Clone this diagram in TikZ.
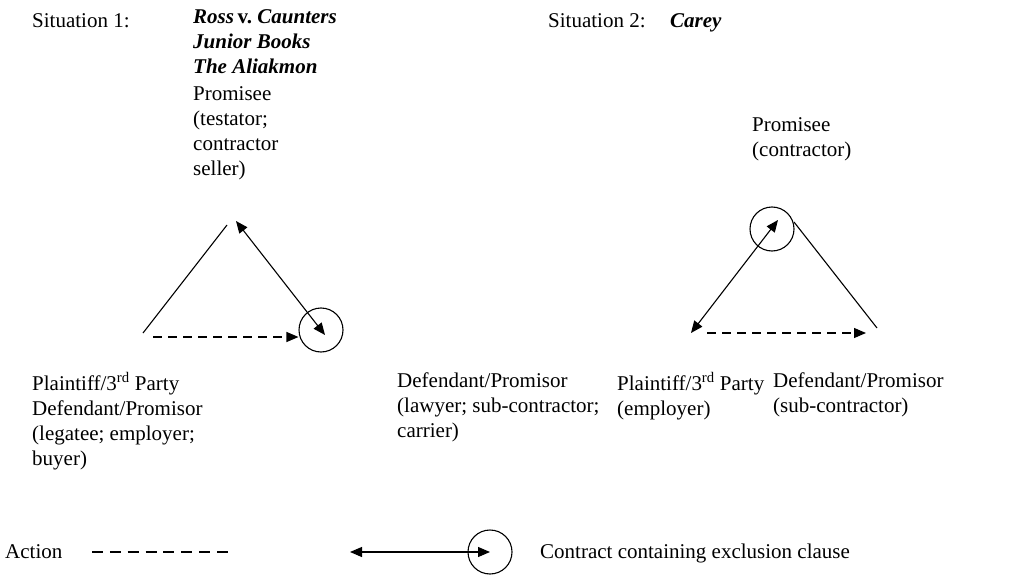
\documentclass[tikz,border=0pt]{standalone}
\usepackage{fontspec}
\setmainfont{Liberation Serif}
\usetikzlibrary{arrows.meta}
\begin{document}
\begin{tikzpicture}[x=1pt,y=-1pt,
  txt/.style={font=\fontsize{21}{25}\selectfont, inner sep=0pt, anchor=north west, yshift=17.5pt, align=left,
    execute at begin node=\strut},
  ln/.style={line width=1.1pt},
  dbl/.style={ln, {Triangle[length=12pt,width=10pt]}-{Triangle[length=12pt,width=10pt]}},
  act/.style={ln, dash pattern=on 9pt off 6pt, -{Triangle[length=12pt,width=10pt]}},
  ring/.style={circle, draw, line width=1.1pt, minimum size=44pt, inner sep=0pt}]
\useasboundingbox (0,0) rectangle (1012,575);
% Situation 1 texts
\node[txt] (s1) at (32,27) {Situation 1:};
\node[txt] (cases) at (193,27) {\textbf{\textit{Ross}\,v.\ \textit{Caunters}}\\\textbf{\textit{Junior Books}}\\\textbf{\textit{The Aliakmon}}};
\node[txt] (pe1) at (193,104) {Promisee\\(testator;\\contractor\\seller)};
\node[txt] (pl1) at (32,390) {Plaintiff/3\textsuperscript{rd} Party\\Defendant/Promisor\\(legatee; employer;\\buyer)};
\node[txt] (de1) at (397,390) {Defendant/Promisor\\(lawyer; sub-contractor;\\carrier)};
% Situation 1 geometry
\coordinate (t1a) at (227,225);
\coordinate (l1a) at (143,333);
\coordinate (t1b) at (236,221);
\coordinate (d1) at (325,335);
\coordinate (l1d) at (153,337);
\node[ring] (c1) at (321,330) {};
\draw[ln] (t1a) -- (l1a);
\draw[dbl] (t1b) -- (d1);
\draw[act] (l1d) -- (c1.west |- l1d);
% Situation 2 texts
\node[txt] (s2) at (548,27) {Situation 2:};
\node[txt] (carey) at (670,27) {\textbf{\textit{Carey}}};
\node[txt] (pe2) at (752,135) {Promisee\\(contractor)};
\node[txt] (pl2) at (617,390) {Plaintiff/3\textsuperscript{rd} Party\\(employer)};
\node[txt] (de2) at (773,390) {Defendant/Promisor\\(sub-contractor)};
% Situation 2 geometry
\node[ring] (c2) at (772,229) {};
\coordinate (a2) at (778,220);
\coordinate (p2) at (691,333);
\coordinate (t2) at (794,222);
\coordinate (r2) at (877,328);
\coordinate (p2d) at (707,333);
\coordinate (r2d) at (866,333);
\draw[dbl] (a2) -- (p2);
\draw[ln] (t2) -- (r2);
\draw[act] (p2d) -- (r2d);
% Legend
\node[txt] (lact) at (5,558) {Action};
\coordinate (la1) at (92,552);
\coordinate (la2) at (230,552);
\draw[ln, dash pattern=on 11pt off 6.857pt] (la1) -- (la2);
\node[ring] (lc) at (490,552) {};
\coordinate (lb1) at (350,552);
\draw[dbl] (lb1) -- (lc.center);
\node[txt] (lcon) at (540,558) {Contract containing exclusion clause};
\end{tikzpicture}
\end{document}
